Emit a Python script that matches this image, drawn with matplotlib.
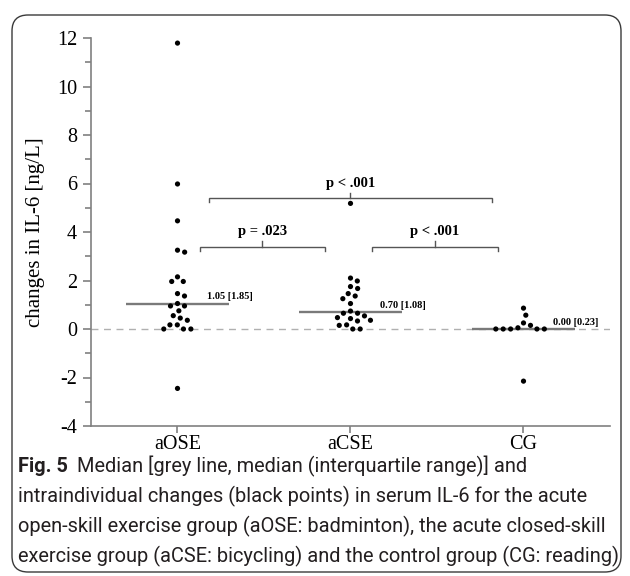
import numpy as np
import matplotlib
matplotlib.use('Agg')
import matplotlib.pyplot as plt
from matplotlib.patches import FancyBboxPatch

# ---------------- data ----------------
groups = ['aOSE', 'aCSE', 'CG']
aose = [11.79, 5.98, 4.46, 3.25, 3.17, 2.15, 1.96, 1.96, 1.46, 1.36, 1.05, 0.95,
        0.95, 0.75, 0.55, 0.45, 0.36, 0.17, 0.17, 0.0, 0.0, 0.0, -2.45]
acse = [5.18, 2.10, 1.98, 1.75, 1.67, 1.46, 1.36, 1.25, 1.05, 0.74, 0.65, 0.65,
        0.54, 0.47, 0.43, 0.36, 0.33, 0.17, 0.15, 0.0, 0.0]
cg = [0.86, 0.57, 0.25, 0.15, 0.05, 0.0, 0.0, 0.0, 0.0, 0.0, -2.15]
medians = [1.05, 0.70, 0.00]
iqrs = [1.85, 1.08, 0.23]
comparisons = [(0, 1), (1, 2), (0, 2)]
p_labels = ['p = .023', 'p < .001', 'p < .001']
y_ticks = [-4, -2, 0, 2, 4, 6, 8, 10, 12]
y_label = 'changes in IL-6 [ng/L]'
caption_bold = 'Fig. 5'
caption_lines = [
    'Median [grey line, median (interquartile range)] and',
    'intraindividual changes (black points) in serum IL-6 for the acute',
    'open-skill exercise group (aOSE: badminton), the acute closed-skill',
    'exercise group (aCSE: bicycling) and the control group (CG: reading)',
]

W, H, DPI = 630, 576, 100
fig = plt.figure(figsize=(W / DPI, H / DPI), dpi=DPI)
ax = fig.add_axes([91 / W, 1 - 426 / H, (610 - 91) / W, (426 - 38) / H])

serif = 'Liberation Serif'
axis_grey = '#808080'

ax.set_xlim(0.5, 3.5)
ax.set_ylim(-4, 12)
positions = np.arange(1, len(groups) + 1)

# pixels per data unit (for swarm layout)
p0 = ax.transData.transform((0, 0))
p1 = ax.transData.transform((1, 1))
ppx, ppy = p1[0] - p0[0], p1[1] - p0[1]


def swarm_offsets(vals, d=7.4):
    vals = np.asarray(vals, float)
    order = np.argsort(-vals, kind='stable')
    xs = np.zeros(len(vals))
    placed = []
    for i in order:
        y = vals[i] * ppy
        cands = [0.0]
        for xj, yj in placed:
            dy = y - yj
            if abs(dy) < d:
                dx = np.sqrt(d * d - dy * dy)
                cands += [xj + dx, xj - dx]
        cands = sorted(set(cands), key=lambda c: (abs(c), -c))
        for c in cands:
            if all((c - xj) ** 2 + (y - yj) ** 2 >= d * d - 1e-6 for xj, yj in placed):
                xs[i] = c
                break
        placed.append((xs[i], y))
    return xs / ppx


# zero reference line
ax.axhline(0, color='#b0b0b0', lw=1.0, ls=(0, (5, 4)), zorder=1)

for pos, vals in zip(positions, [aose, acse, cg]):
    offs = swarm_offsets(vals)
    ax.scatter(pos + offs, vals, s=14, color='black', edgecolors='none', zorder=3)

for pos, m, q in zip(positions, medians, iqrs):
    ax.hlines(m, pos - 0.30, pos + 0.30, color='#7a7a7a', lw=1.7, zorder=2)
    ax.text(pos + 0.17, m + 0.28, f'{m:.2f} [{q:.2f}]', fontsize=7.5,
            fontweight='bold', family=serif, ha='left', va='center', zorder=4)

# significance brackets
bracket_y = [3.39, 3.39, 5.40]
insets = [(0.13, 0.15), (0.125, 0.15), (0.18, 0.18)]
for (i, j), lab, yb, (li, ri) in zip(comparisons, p_labels, bracket_y, insets):
    x0, x1 = positions[i] + li, positions[j] - ri
    xm = (x0 + x1) / 2
    ax.plot([x0, x0, x1, x1], [yb - 0.17, yb, yb, yb - 0.17], color='#555555', lw=1.0,
            solid_joinstyle='miter', zorder=2)
    ax.plot([xm, xm], [yb, yb + 0.22], color='#555555', lw=1.0, zorder=2)
    ax.text(xm, yb + 0.62, lab, fontsize=10.5, fontweight='bold', family=serif,
            ha='center', va='center')

# axes styling
for s in ['top', 'right']:
    ax.spines[s].set_visible(False)
for s in ['left', 'bottom']:
    ax.spines[s].set_color(axis_grey)
    ax.spines[s].set_linewidth(1.2)
ax.set_yticks(y_ticks)
ax.set_yticks(np.arange(-3, 12, 2), minor=True)
ax.set_yticklabels([str(t) for t in y_ticks], family=serif, fontsize=14.5)
ax.set_xticks(positions)
ax.set_xticklabels(groups, family=serif, fontsize=14.5)
ax.tick_params(axis='y', which='major', length=6, width=1.2, color=axis_grey, pad=4)
ax.tick_params(axis='y', which='minor', length=4, width=1.2, color=axis_grey)
ax.tick_params(axis='x', which='major', length=5, width=1.2, color=axis_grey, pad=1.5)
ax.set_ylabel(y_label, family=serif, fontsize=15)
ax.yaxis.set_label_coords(-0.088, 0.5)

# frame
frame = FancyBboxPatch((0.12, 0.04), 6.09, 5.57,
                       boxstyle='round,pad=0,rounding_size=0.16',
                       transform=fig.dpi_scale_trans, fill=False,
                       edgecolor='#3a3a3a', lw=1.0)
fig.patches.append(frame)

# caption
cap_font = 'Roboto'
cap_color = '#231f20'
renderer = fig.canvas.get_renderer()
probe = fig.text(0, 0, caption_lines[2], fontsize=12, family=cap_font)
w = probe.get_window_extent(renderer).width
probe.remove()
cap_size = 12 * (606 - 18) / w

x_left = 18 / W
line_y = [466, 496, 526, 556]
tb = fig.text(x_left, 1 - line_y[0] / H, caption_bold, fontsize=cap_size,
              family=cap_font, fontweight='bold', color=cap_color, va='center')
bw = tb.get_window_extent(renderer).width
fig.text(x_left + (bw + 9) / W, 1 - line_y[0] / H, caption_lines[0], fontsize=cap_size,
         family=cap_font, color=cap_color, va='center')
for yy, line in zip(line_y[1:], caption_lines[1:]):
    fig.text(x_left, 1 - yy / H, line, fontsize=cap_size, family=cap_font,
             color=cap_color, va='center')

fig.savefig('out.png', dpi=DPI)
